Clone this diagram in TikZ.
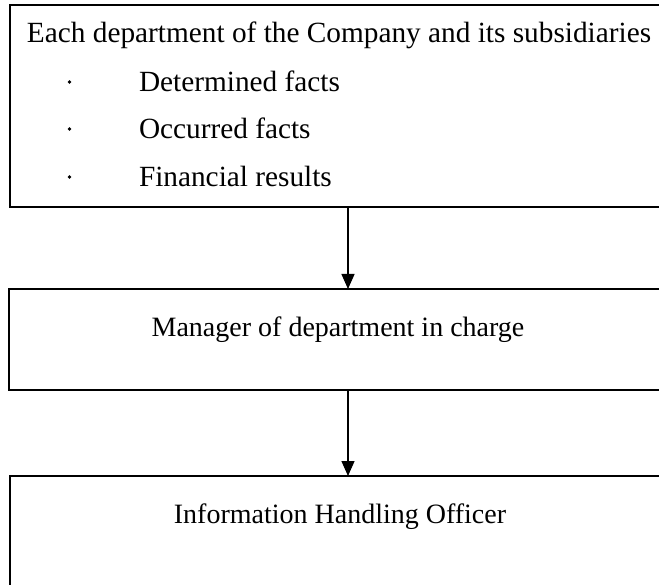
\documentclass[tikz,border=0pt]{standalone}
\usepackage{fontspec}
\setmainfont{Liberation Serif}
\usetikzlibrary{arrows.meta}
\begin{document}
\begin{tikzpicture}[x=1pt,y=-1pt,
  box/.style={draw, line width=1.8pt, rectangle, inner sep=0pt, outer sep=0pt, anchor=north west},
  txt/.style={font=\fontsize{28}{34}\selectfont, inner sep=0pt, outer sep=0pt},
  bigtxt/.style={font=\fontsize{29.3}{35}\selectfont, inner sep=0pt, outer sep=0pt},
  dot/.style={circle, fill, inner sep=0pt, minimum size=3.8pt},
  arr/.style={line width=1.3pt, -{Triangle[width=13pt,length=15pt]}}]
\useasboundingbox (0,0) rectangle (659,585);
\clip (0,0) rectangle (659,585);
\fill[white] (0,0) rectangle (659,585);
\node[box, minimum width=676pt, minimum height=202pt] (top) at (10,5) {};
\node[box, minimum width=678pt, minimum height=101pt] (mid) at (9,289) {};
\node[box, minimum width=676pt, minimum height=140pt] (bot) at (10,476) {};
\node[bigtxt, anchor=base west] (h) at (27,43) {Each department of the Company and its subsidiaries};
\node[dot] (b1) at (69.5,82) {};
\node[dot] (b2) at (69.5,129) {};
\node[dot] (b3) at (69.5,177) {};
\node[bigtxt, anchor=base west] (i1) at (139,92) {Determined facts};
\node[bigtxt, anchor=base west] (i2) at (139,139) {Occurred facts};
\node[bigtxt, anchor=base west] (i3) at (139,187) {Financial results};
\node[txt, anchor=base] (m) at (338,337) {Manager of department in charge};
\node[txt, anchor=base] (o) at (340,523) {Information Handling Officer};
\draw[arr] (top.south) -- (mid.north);
\draw[arr] (mid.south) -- (bot.north);
\end{tikzpicture}
\end{document}
